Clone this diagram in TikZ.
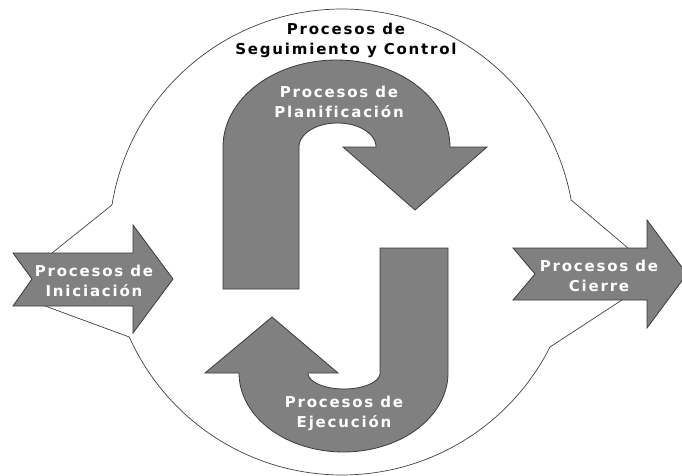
\documentclass[tikz,border=0pt]{standalone}
\usepackage{fontspec}
\setmainfont{DejaVu Sans}[LetterSpace=12, Ligatures={NoCommon}]
\definecolor{shapegray}{HTML}{808080}
\definecolor{edgegray}{HTML}{3A3A3A}
\definecolor{ringgray}{HTML}{404040}
\tikzset{
  bigarrow/.style={fill=shapegray, draw=edgegray, line width=0.8pt, line join=miter},
  ring/.style={draw=ringgray, line width=0.7pt},
  lbl/.style={font=\bfseries\fontsize{15}{20}\selectfont, align=center, text=white, inner sep=0pt},
  toplbl/.style={lbl, text=black},
}
\begin{document}
\begin{tikzpicture}[x=1pt,y=-1pt]
\useasboundingbox (0,0) rectangle (682,476);
\clip (0,0) rectangle (682,476);

% monitoring ring: two arcs, broken where the side arrows pass through
\coordinate (eLT) at ({342+233*cos(189.14)},{242+233*sin(189.14)});
\coordinate (eLB) at ({342+233*cos(155.94)},{242+233*sin(155.94)});
\coordinate (eRT) at ({342+233*cos(349.61)},{242+233*sin(349.61)});
\coordinate (eRB) at ({342+233*cos(26.78)},{242+233*sin(26.78)});
\draw[ring] plot[domain=26.78:155.94, samples=90] ({342+233*cos(\x)},{242+233*sin(\x)});
\draw[ring] plot[domain=189.14:349.61, samples=110] ({342+233*cos(\x)},{242+233*sin(\x)});

% points where the ring meets the side arrows
\coordinate (aLT) at (52,253);
\coordinate (aLB) at (45,306);
\coordinate (aRT) at (628,248);
\coordinate (aRB) at (622,300);
\draw[ring] (eLT) -- (aLT);
\draw[ring] (aLB) -- (eLB);
\draw[ring] (eRT) -- (aRT);
\draw[ring] (aRB) -- (eRB);

% initiation arrow
\draw[bigarrow] (13,253) -- (133,253) -- (133,225) -- (173,279) -- (133,333)
  -- (133,306) -- (13,306) -- (32,279) -- cycle;
% closing arrow
\draw[bigarrow] (513,248) -- (647,248) -- (647,220) -- (687,274) -- (647,328)
  -- (647,300) -- (513,300) -- (535,274) -- cycle;

% planning: U-turn arrow pointing down
\draw[bigarrow] (223,289) -- (299,289) -- (299,147)
  -- plot[domain=180:360, samples=40] ({337.5+38.5*cos(\x)},{147+24*sin(\x)})
  -- (343,147) -- (415,210) -- (487,147) -- (450,147)
  -- plot[domain=360:180, samples=70] ({336.5+113.5*cos(\x)},{147+87*sin(\x)})
  -- cycle;

% execution: J-turn arrow pointing up
\draw[bigarrow] (380,248) -- (448,248) -- (448,373)
  -- plot[domain=0:180, samples=70] ({343.5+104.5*cos(\x)},{373+79*sin(\x)})
  -- (205,373) -- (272,317) -- (338,373) -- (308,373)
  -- plot[domain=180:0, samples=40] ({344+36*cos(\x)},{373+16*sin(\x)})
  -- cycle;

% labels
\node[toplbl] (seg) at (346,40) {Procesos de\\Seguimiento y Control};
\node[lbl] (pla) at (339,102) {Procesos de\\Planificación};
\node[lbl] (ini) at (94,281) {Procesos de\\Iniciación};
\node[lbl] (cie) at (599,276) {Procesos de\\Cierre};
\node[lbl] (eje) at (344,413) {Procesos de\\Ejecución};
\end{tikzpicture}
\end{document}
